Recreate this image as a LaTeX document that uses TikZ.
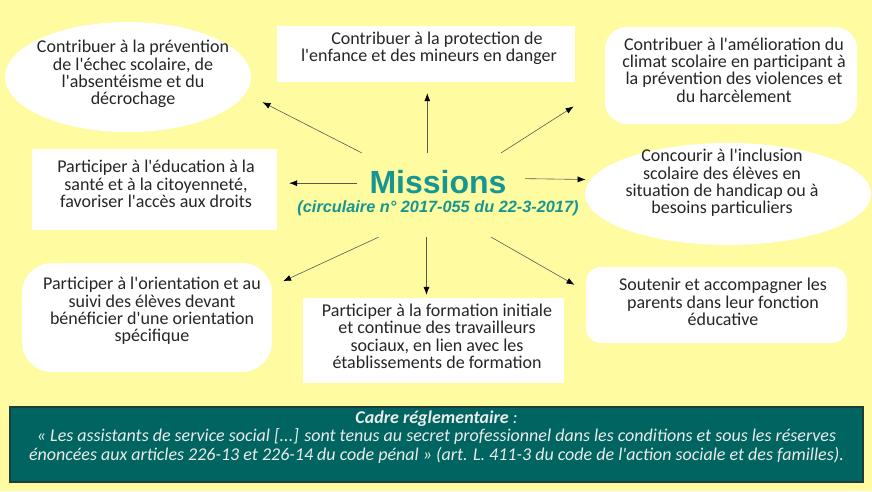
\documentclass[tikz,border=0pt]{standalone}
\usepackage{fontspec}
\setmainfont{Carlito}[Ligatures=TeXOff]
\newfontfamily\titrefont{Liberation Sans}
\usetikzlibrary{arrows.meta,shapes.geometric}

\definecolor{fond}{RGB}{255,251,160}
\definecolor{sarcelle}{RGB}{22,150,146}
\definecolor{cadrevert}{RGB}{0,100,96}
\definecolor{cadrebord}{RGB}{30,60,56}
\definecolor{trait}{RGB}{90,90,80}

\tikzset{
  bulle/.style={fill=white, inner sep=0pt},
  texte/.style={align=center, text=black!85, font=\fontsize{18}{17.4}\selectfont},
  fleche/.style={draw=trait, line width=0.6pt, -{Latex[length=8pt,width=6pt,color=black]}},
}

\begin{document}
\begin{tikzpicture}[x=1pt,y=-1pt]
\fill[fond] (0,0) rectangle (872,491);
\useasboundingbox (0,0) rectangle (872,491);

% les bulles
\node[bulle, ellipse, minimum width=246pt, minimum height=110pt] (tl) at (128,77) {};
\node[bulle, minimum width=298pt, minimum height=56pt] (tc) at (426,54) {};
\node[bulle, rounded corners=22pt, minimum width=252pt, minimum height=97pt] (tr) at (731,75.5) {};
\node[bulle, minimum width=245pt, minimum height=81pt] (ml) at (154.5,189.5) {};
\node[bulle, ellipse, minimum width=286pt, minimum height=102pt] (mr) at (728,194) {};
\node[bulle, rounded corners=30pt, minimum width=250pt, minimum height=109pt] (bl) at (147,317.5) {};
\node[bulle, minimum width=261pt, minimum height=85pt] (bc) at (433.5,340.5) {};
\node[bulle, rounded corners=15pt, minimum width=261pt, minimum height=76pt] (br) at (716.5,305) {};

\node[texte] (tl-txt) at (133,74) {Contribuer à la prévention\\de l'échec scolaire, de\\l'absentéisme et du\\décrochage};
\node[texte] (tc-txt) at (429,48.5) {\hspace*{16pt}Contribuer à la protection de\\l'enfance et des mineurs en danger};
\node[texte] (tr-txt) at (734,70) {Contribuer à l'amélioration du\\climat scolaire en participant à\\la prévention des violences et\\du harcèlement};
\node[texte] (ml-txt) at (156,184) {Participer à l'éducation à la\\santé et à la citoyenneté,\\favoriser l'accès aux droits};
\node[texte] (mr-txt) at (722,183) {Concourir à l'inclusion\\scolaire des élèves en\\situation de handicap ou à\\besoins particuliers};
\node[texte] (bl-txt) at (152,311) {Participer à l'orientation et au\\suivi des élèves devant\\bénéficier d'une orientation\\spécifique};
\node[texte] (bc-txt) at (437,336.5) {Participer à la formation initiale\\et continue des travailleurs\\sociaux, en lien avec les\\établissements de formation};
\node[texte] (br-txt) at (723,302) {Soutenir et accompagner les\\parents dans leur fonction\\éducative};

% centre
\node[text=sarcelle, font=\titrefont\bfseries\fontsize{32}{36}\selectfont] (missions) at (438,182) {Missions};
\node[text=sarcelle, font=\titrefont\bfseries\itshape\fontsize{16.3}{18}\selectfont] (circulaire) at (438,208) {(circulaire n° 2017-055 du 22-3-2017)};
\node[minimum width=168pt, minimum height=84pt, inner sep=0pt] (hub) at (441,195) {};

\draw[fleche, shorten >=19pt] (hub.152) -- (tl.-8);
\draw[fleche, shorten >=11pt] (hub.108) -- (hub.108 |- tc.south);
\draw[fleche, shorten >=37pt] (hub.35) -- (tr.185);
\draw[fleche, shorten >=12pt] (hub.172) -- (hub.172 -| ml.east);
\draw[fleche, shorten >=5pt] (hub.11) -- (mr.174);
\draw[fleche, shorten >=12pt] (hub.214) -- (bl.14);
\draw[fleche, shorten >=3pt] (hub.251) -- (hub.251 |- bc.north);
\draw[fleche, shorten >=13pt] (hub.-40) -- (br.174);

% cadre reglementaire
\node[draw=cadrebord, line width=1.2pt, fill=cadrevert, minimum width=853pt, minimum height=75pt] (cadre) at (436.5,444.5) {};
\node[text=black!8, font=\itshape\fontsize{18}{18.5}\selectfont] (cadre-txt) at (436.5,438)
  {\begin{tabular}{@{}c@{}}
  \textbf{Cadre réglementaire} :\\
  « Les assistants de service social [...] sont tenus au secret professionnel dans les conditions et sous les réserves\\
  énoncées aux articles 226-13 et 226-14 du code pénal » (art. L. 411-3 du code de l'action sociale et des familles).
  \end{tabular}};
\end{tikzpicture}
\end{document}
